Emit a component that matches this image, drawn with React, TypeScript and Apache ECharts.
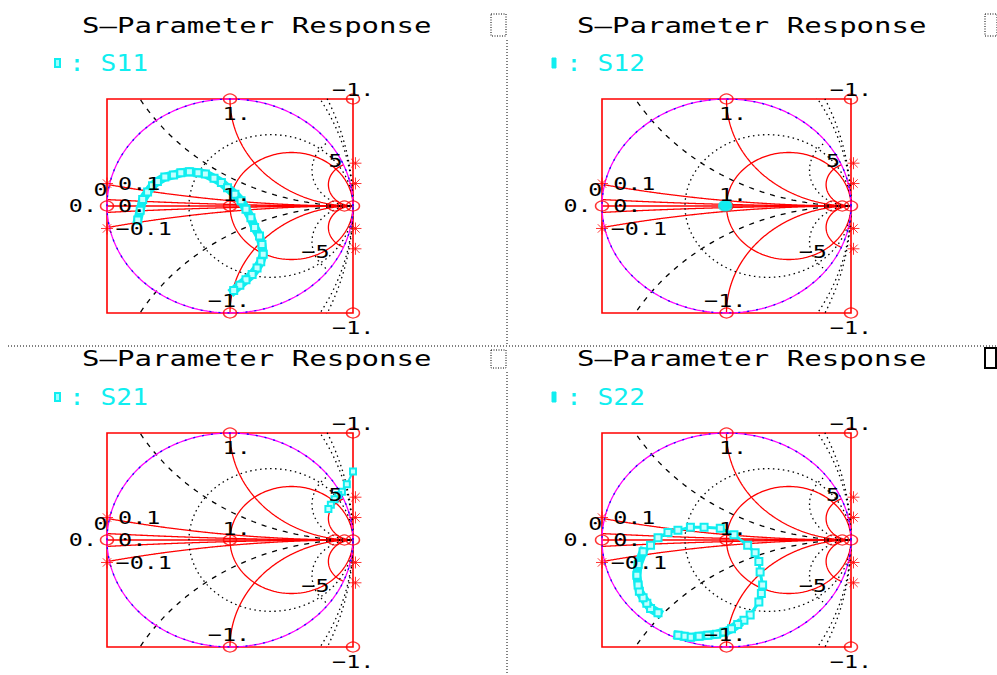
import { useEffect, useRef } from 'react';
import * as echarts from 'echarts';

const panelTitle = 'S–Parameter Response';
const traceNames = ['S11', 'S12', 'S21', 'S22'];

// Measured coefficients, [real, imaginary]
const s11: number[][] = [
  [-0.75, -0.13], [-0.73, -0.04], [-0.71, 0.06], [-0.67, 0.13], [-0.63, 0.19], [-0.59, 0.23],
  [-0.53, 0.27], [-0.46, 0.29], [-0.40, 0.31], [-0.33, 0.32], [-0.26, 0.31], [-0.20, 0.30],
  [-0.13, 0.26], [-0.07, 0.22], [-0.02, 0.17], [0.04, 0.11], [0.09, 0.05], [0.13, -0.03],
  [0.17, -0.11], [0.20, -0.20], [0.24, -0.28], [0.26, -0.36], [0.27, -0.45], [0.25, -0.52],
  [0.22, -0.58], [0.18, -0.64], [0.13, -0.69], [0.08, -0.74], [0.03, -0.79],
];
const s12: number[][] = [[-0.01, 0.01], [0.0, 0.0], [-0.02, 0.0]];
const s21: number[][] = [
  [1.0, 0.64], [0.95, 0.52], [0.91, 0.45], [0.88, 0.42], [0.85, 0.38], [0.82, 0.33], [0.80, 0.29],
];
const s22: number[][] = [
  [-0.55, -0.68], [-0.61, -0.64], [-0.64, -0.59], [-0.67, -0.54], [-0.70, -0.48], [-0.71, -0.42],
  [-0.72, -0.33], [-0.71, -0.23], [-0.67, -0.11], [-0.61, -0.05], [-0.55, 0.02], [-0.47, 0.07],
  [-0.39, 0.09], [-0.29, 0.12], [-0.18, 0.12], [-0.05, 0.11], [0.06, 0.05], [0.17, -0.05],
  [0.23, -0.12], [0.26, -0.20], [0.27, -0.30], [0.29, -0.42], [0.28, -0.50], [0.26, -0.58],
  [0.19, -0.70], [0.14, -0.75], [0.09, -0.79], [0.04, -0.83], [-0.02, -0.86], [-0.08, -0.88],
  [-0.15, -0.89], [-0.22, -0.90], [-0.29, -0.91], [-0.34, -0.90], [-0.39, -0.89],
];
const traces = [s11, s12, s21, s22];
// stretches of each trace where the sweep is densely sampled: [from, to] indices
const denseRuns: number[][][] = [[[0, 28]], [], [], [[0, 8], [26, 34]]];

// Smith chart construction values
const solidResistance = [1];
const dottedResistance = [0.5];
const negativeResistance = [-0.5, -0.6];
const solidReactance = [1, -1, 0.1, -0.1, 0.03, -0.03, 5, -5];
const dottedReactance = [3, -3];
const dashedReactance = [0.5, -0.5];

const ringMarkers: number[][] = [
  [0, 1], [0, -1], [1, 1], [1, -1], [-1, 0], [0, 0], [1, 0], [0.85, 0], [0.93, 0],
];
const starMarkers: number[][] = [
  [-1, 0.21], [-1, -0.21], [1.02, 0.21], [1.02, -0.21], [1.02, 0.4], [1.02, -0.4],
];

const tickLabels = ['1.', '−1.', '−1.', '−1.', '1.', '0.1', '−0.1', '0.', '0', '0.', '5', '−5'];
const tickAnchors: number[][] = [
  [-0.06, 0.86], [0.83, 1.08], [0.83, -1.14], [-0.18, -0.89], [-0.06, 0.1], [-0.91, 0.21],
  [-0.93, -0.21], [-1.31, 0], [-1.11, 0.15], [-0.91, 0], [0.8, 0.42], [0.58, -0.43],
];

const RED = '#ff0000';
const CYAN = '#10eef0';
const STEPS = 240;

function circlePts(cx: number, cy: number, rad: number) {
  const pts: number[][] = [];
  for (let k = 0; k <= STEPS; k++) {
    const t = (2 * Math.PI * k) / STEPS;
    pts.push([cx + rad * Math.cos(t), cy + rad * Math.sin(t)]);
  }
  return pts;
}

function resistanceCircle(r: number) {
  return circlePts(r / (1 + r), 0, Math.abs(1 / (1 + r)));
}

// Constant-reactance arc, swept from the open-circuit point (1, 0)
function reactanceArc(x: number, sweep: number) {
  const cy = 1 / x;
  const rad = Math.abs(1 / x);
  const start = x > 0 ? -Math.PI / 2 : Math.PI / 2;
  const dir = x > 0 ? -1 : 1;
  const pts: number[][] = [];
  for (let k = 0; k <= STEPS; k++) {
    const t = start + (dir * sweep * k) / STEPS;
    pts.push([1 + rad * Math.cos(t), cy + rad * Math.sin(t)]);
  }
  return pts;
}

const grids = [
  { left: 107, top: 99, width: 246, height: 214 },
  { left: 602, top: 99, width: 249, height: 214 },
  { left: 107, top: 433, width: 246, height: 214 },
  { left: 602, top: 433, width: 249, height: 214 },
];

function panelSeries(i: number) {
  const out: any[] = [];
  const line = (data: number[][], color: string, width: number, type: any, z = 2) =>
    out.push({
      type: 'line', xAxisIndex: i, yAxisIndex: i, data, z, silent: true, clip: true,
      symbol: 'none', showSymbol: false, lineStyle: { color, width, type },
    });

  line(circlePts(0, 0, 1), '#ff00ff', 1.3, 'solid', 3);
  line(circlePts(0, 0, 1), '#1010ff', 1.3, [2, 7], 3);
  line([[-1, 0], [1, 0]], RED, 1.5, 'solid');
  solidResistance.forEach((r) => line(resistanceCircle(r), RED, 1.3, 'solid'));
  solidReactance.forEach((x) => line(reactanceArc(x, 2 * Math.atan(Math.abs(x))), RED, 1.3, 'solid'));
  dottedResistance.forEach((r) => line(resistanceCircle(r), '#000', 1.3, [1.5, 3.5]));
  negativeResistance.forEach((r) => line(resistanceCircle(r), '#000', 1.3, [1.5, 3.5]));
  dottedReactance.forEach((x) => line(reactanceArc(x, 2 * Math.atan(Math.abs(x))), '#000', 1.3, [1.5, 3.5]));
  dashedReactance.forEach((x) => line(reactanceArc(x, Math.PI), '#000', 1.3, [5, 6]));

  out.push({
    type: 'scatter', xAxisIndex: i, yAxisIndex: i, data: ringMarkers, silent: true, clip: false, z: 4,
    symbol: 'circle', symbolSize: [13, 10],
    itemStyle: { color: 'rgba(0,0,0,0)', borderColor: RED, borderWidth: 1.3 },
  });
  out.push({
    type: 'scatter', xAxisIndex: i, yAxisIndex: i, data: starMarkers, silent: true, clip: false, z: 4,
    symbol: 'path://M0,5L10,5M5,0L5,10M1.5,1.5L8.5,8.5M8.5,1.5L1.5,8.5', symbolSize: 12,
    itemStyle: { color: 'none', borderColor: RED, borderWidth: 1 },
  });

  const data = traces[i];
  if (i === 1) {
    out.push({
      type: 'scatter', name: traceNames[i], xAxisIndex: i, yAxisIndex: i, data, z: 8, silent: true,
      symbol: 'circle', symbolSize: [12, 11], itemStyle: { color: CYAN },
    });
  } else {
    const width = i === 2 ? 2 : 3;
    const size = i === 2 ? 6 : 7;
    // dense runs of the sweep read as a solid band
    denseRuns[i].forEach(([a, b]) =>
      out.push({
        type: 'line', xAxisIndex: i, yAxisIndex: i, data: data.slice(a, b + 1), z: 7, silent: true,
        clip: true, symbol: 'none', showSymbol: false,
        lineStyle: { color: CYAN, width: 9, cap: 'square', join: 'round' },
      })
    );
    out.push({
      type: 'line', name: traceNames[i], xAxisIndex: i, yAxisIndex: i, data, z: 8, silent: true,
      clip: true, symbol: 'rect', symbolSize: size, showSymbol: true,
      lineStyle: { color: CYAN, width },
      itemStyle: { color: '#c4ffff', borderColor: CYAN, borderWidth: 2 },
    });
  }
  return out;
}

function buildOption() {
  return {
    animation: false,
    backgroundColor: '#ffffff',
    grid: grids.map((g) => ({
      ...g, show: true, borderColor: RED, borderWidth: 1.6, backgroundColor: 'transparent',
    })),
    xAxis: grids.map((_, i) => ({ type: 'value', gridIndex: i, min: -1, max: 1, show: false })),
    yAxis: grids.map((_, i) => ({ type: 'value', gridIndex: i, min: -1, max: 1, show: false })),
    series: grids.flatMap((_, i) => panelSeries(i)),
  };
}

const titleOrigins = [[82, 25], [577, 25], [82, 358], [577, 358]];
const legendOrigins = [[55, 63], [552, 63], [55, 397], [552, 397]];

function buildGraphics(chart: any) {
  const g: any[] = [];
  const text = (x: number, y: number, t: string, font: string, fill: string, scaleX: number) =>
    g.push({
      type: 'text', x, y, scaleX, z: 100, silent: true,
      style: { text: t, fill, font, textAlign: 'left', textVerticalAlign: 'middle', verticalAlign: 'middle' },
    });

  grids.forEach((_, i) => {
    const [tx, ty] = titleOrigins[i];
    text(tx, ty, panelTitle, '22px "DejaVu Sans Mono"', '#000', 1.32);
    const [lx, ly] = legendOrigins[i];
    const hollow = i === 0 || i === 2;
    g.push({
      type: 'rect', z: 100, silent: true,
      shape: hollow ? { x: lx, y: ly - 4, width: 5, height: 8 } : { x: lx, y: ly - 5, width: 4, height: 10 },
      style: hollow ? { fill: '#9ff', stroke: CYAN, lineWidth: 2 } : { fill: CYAN, stroke: CYAN, lineWidth: 1 },
    });
    text(lx + 14, ly, ': ' + traceNames[i], '23px "DejaVu Sans Mono"', CYAN, 1.14);
    tickLabels.forEach((lab, j) => {
      const p = chart.convertToPixel({ gridIndex: i }, tickAnchors[j]);
      text(p[0], p[1], lab, '18px "DejaVu Sans Mono"', '#000', 1.3);
    });
  });

  const dotted = { stroke: '#000', lineWidth: 1, lineDash: [1, 2] };
  g.push({ type: 'line', z: 90, silent: true, shape: { x1: 8, y1: 346, x2: 997, y2: 346 }, style: dotted });
  g.push({ type: 'line', z: 90, silent: true, shape: { x1: 507, y1: 40, x2: 507, y2: 345 }, style: dotted });
  g.push({ type: 'line', z: 90, silent: true, shape: { x1: 507, y1: 372, x2: 507, y2: 675 }, style: dotted });

  const icons = [[491, 14, 15, 22], [985, 14, 12, 22], [491, 350, 15, 18], [985, 348, 11, 20]];
  icons.forEach(([x, y, w, h], k) => {
    g.push({
      type: 'rect', z: 90, silent: true, shape: { x, y, width: w, height: h },
      style: { fill: 'none', stroke: '#000', lineWidth: k === 3 ? 2 : 1, lineDash: k === 3 ? null : [1, 1.5] },
    });
  });
  return g;
}

export default function App() {
  const ref = useRef<HTMLDivElement>(null);
  useEffect(() => {
    const chart = echarts.init(ref.current!, null, { renderer: 'svg' });
    chart.setOption(buildOption());
    chart.setOption({ graphic: buildGraphics(chart) });
    return () => chart.dispose();
  }, []);
  return (
    <div
      ref={ref}
      style={{ position: 'absolute', left: 0, top: 0, width: 997, height: 675, background: '#fff' }}
    />
  );
}
